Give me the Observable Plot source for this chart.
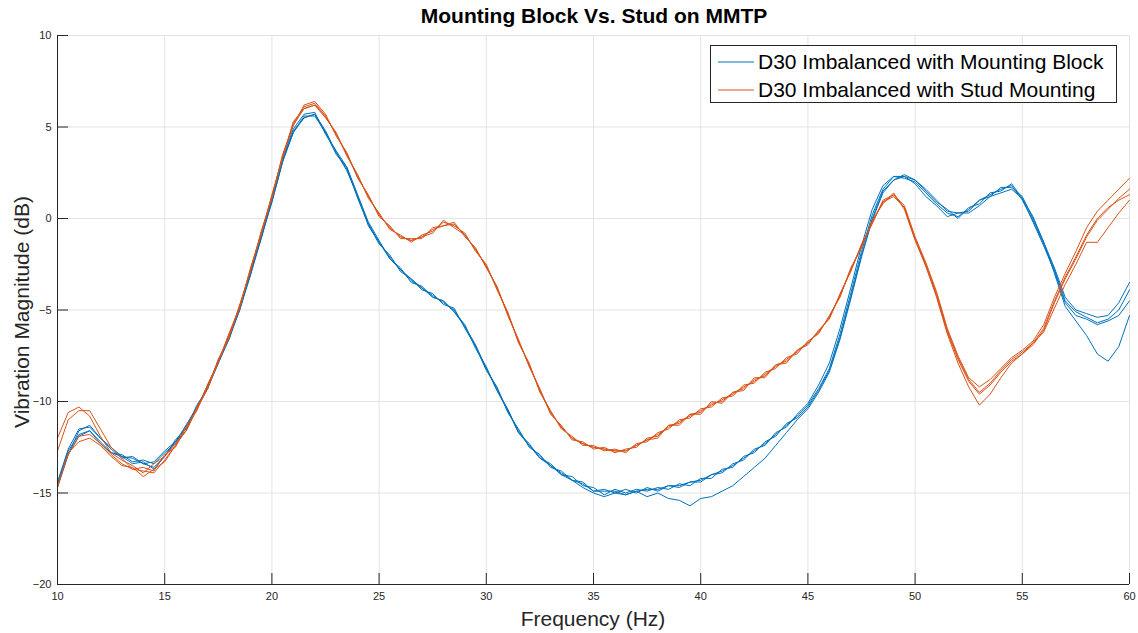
<!DOCTYPE html>
<html>
<head>
<meta charset="utf-8">
<script src="https://cdn.jsdelivr.net/npm/d3@7"></script>
<script src="https://cdn.jsdelivr.net/npm/@observablehq/plot@0.6"></script>
<style>
  body { margin: 0; background: #fff; font-family: "Liberation Sans", Arial, sans-serif; }
  #wrap { position: relative; width: 1138px; height: 633px; }
  #title { position: absolute; left: 0; top: 4px; width: 1188px; text-align: center; font-weight: bold; font-size: 21px; color: #000; }
  #chart { position: absolute; left: 0; top: 30px; }
  #ylab { position: absolute; left: 22px; top: 312px; transform: translate(-50%, -50%) rotate(-90deg); font-size: 21px; color: #262626; white-space: nowrap; }
  #xlab { position: absolute; left: 593px; top: 619px; transform: translate(-50%, -50%); font-size: 21px; color: #262626; white-space: nowrap; }
  #legend { position: absolute; left: 710px; top: 45px; width: 405px; height: 56px; border: 1px solid #262626; background: #fff; }
  .lrow { position: absolute; left: 0; height: 26px; display: flex; align-items: center; font-size: 21px; color: #000; white-space: nowrap; }
  .lrow svg { margin-left: 7px; margin-right: 4px; }
</style>
</head>
<body>
<div id="wrap">
  <div id="title">Mounting Block Vs. Stud on MMTP</div>
  <div id="chart"></div>
  <div id="ylab">Vibration Magnitude (dB)</div>
  <div id="xlab">Frequency (Hz)</div>
  <div id="legend"></div>
</div>
<script>
const seriesNames = ["D30 Imbalanced with Mounting Block", "D30 Imbalanced with Stud Mounting"];
const seriesColors = ["#0072BD", "#D95319"];
const xTicks = [10, 15, 20, 25, 30, 35, 40, 45, 50, 55, 60];
const yTicks = [-20, -15, -10, -5, 0, 5, 10];

const freq = [10,10.5,11,11.5,12,12.5,13,13.5,14,14.5,15,15.5,16,16.5,17,17.5,18,18.5,19,19.5,
  20,20.5,21,21.5,22,22.5,23,23.5,24,24.5,25,25.5,26,26.5,27,27.5,28,28.5,29,29.5,
  30,30.5,31,31.5,32,32.5,33,33.5,34,34.5,35,35.5,36,36.5,37,37.5,38,38.5,39,39.5,
  40,40.5,41,41.5,42,42.5,43,43.5,44,44.5,45,45.5,46,46.5,47,47.5,48,48.5,49,49.5,
  50,50.5,51,51.5,52,52.5,53,53.5,54,54.5,55,55.5,56,56.5,57,57.5,58,58.5,59,59.5,60];

const block1 = [-14.7,-12.9,-11.6,-11.3,-12.0,-12.5,-13.0,-13.1,-13.4,-13.6,-13.0,-12.1,-11.5,-10.2,-9.3,-7.7,-6.6,-4.8,-3.1,-0.9,
  0.9,3.1,4.8,5.5,5.7,4.8,3.6,2.7,1.2,-0.3,-1.4,-2.0,-2.9,-3.3,-3.9,-4.1,-4.7,-4.9,-6.0,-7.0,
  -8.3,-9.2,-10.6,-11.5,-12.5,-12.9,-13.6,-13.8,-14.3,-14.4,-14.9,-14.8,-15.0,-14.8,-15.0,-14.7,-14.9,-14.6,-14.7,-14.4,
  -14.4,-14.0,-13.9,-13.4,-13.2,-12.6,-12.4,-11.7,-11.4,-10.7,-10.1,-9.1,-7.9,-6.0,-3.8,-1.5,0.5,1.8,2.3,2.3,
  1.9,1.2,0.7,0.1,0.3,0.4,1.0,1.2,1.7,1.7,1.2,0.0,-1.3,-2.7,-4.3,-5.0,-5.2,-5.4,-5.3,-4.6,-3.5];
const block2 = [-14.5,-12.7,-11.8,-11.6,-12.2,-12.8,-12.9,-13.3,-13.2,-13.4,-12.8,-12.3,-11.3,-10.4,-9.1,-7.9,-6.4,-5.0,-2.9,-1.1,
  1.1,3.3,4.9,5.7,5.8,4.6,3.7,2.8,1.3,-0.2,-1.2,-2.2,-2.7,-3.5,-3.7,-4.3,-4.5,-5.1,-5.8,-7.1,
  -8.1,-9.4,-10.4,-11.7,-12.3,-13.1,-13.4,-14.0,-14.1,-14.6,-14.7,-15.1,-14.8,-15.0,-14.8,-14.9,-14.7,-14.8,-14.5,-14.6,
  -14.2,-14.2,-13.7,-13.6,-13.0,-12.8,-12.2,-11.9,-11.2,-10.9,-10.3,-9.4,-8.3,-6.5,-4.3,-2.0,0.0,1.5,2.1,2.4,
  2.1,1.5,0.9,0.5,0.0,0.6,0.8,1.4,1.5,1.9,1.1,-0.2,-1.5,-2.9,-4.6,-5.3,-5.5,-5.8,-5.6,-5.3,-4.5];
const block3 = [-14.4,-12.6,-11.5,-11.4,-12.0,-12.6,-13.1,-13.0,-13.4,-13.3,-12.7,-12.2,-11.3,-10.3,-9.2,-7.9,-6.5,-4.9,-3.0,-1.0,
  1.0,3.2,4.7,5.6,5.6,4.7,3.5,2.8,1.1,-0.3,-1.3,-2.1,-2.8,-3.3,-3.8,-4.2,-4.6,-5.0,-5.9,-6.9,
  -8.2,-9.3,-10.5,-11.6,-12.4,-13.0,-13.5,-13.9,-14.3,-14.5,-14.9,-14.9,-14.9,-15.1,-14.9,-14.8,-14.8,-14.6,-14.6,-14.4,
  -14.3,-14.0,-13.8,-13.5,-13.1,-12.7,-12.3,-11.8,-11.3,-10.8,-10.2,-9.3,-8.2,-6.3,-4.1,-1.8,0.2,1.6,2.3,2.2,
  2.0,1.4,0.8,0.3,0.1,0.5,1.0,1.3,1.6,1.8,1.0,-0.1,-1.4,-2.8,-4.5,-5.1,-5.4,-5.7,-5.5,-5.0,-3.9];
const block4 = [-14.6,-12.9,-11.9,-11.6,-12.3,-12.8,-13.0,-13.4,-13.3,-13.7,-13.0,-12.2,-11.6,-10.4,-9.3,-7.9,-6.6,-5.0,-3.1,-1.1,
  0.9,3.1,4.7,5.5,5.7,4.7,3.6,2.6,1.2,-0.4,-1.3,-2.2,-2.8,-3.4,-3.8,-4.3,-4.5,-5.1,-5.9,-7.0,
  -8.2,-9.4,-10.5,-11.7,-12.4,-13.1,-13.5,-14.0,-14.3,-14.7,-15.0,-15.2,-15.0,-15.1,-14.9,-15.2,-15.0,-15.3,-15.4,-15.7,
  -15.3,-15.2,-14.9,-14.6,-14.1,-13.6,-13.1,-12.4,-11.7,-11.0,-10.4,-9.5,-8.4,-6.6,-4.4,-2.1,-0.1,1.4,2.1,2.3,
  2.1,1.6,1.0,0.4,0.3,0.3,0.7,1.2,1.4,1.6,1.1,0.1,-1.3,-3.0,-4.8,-5.6,-6.4,-7.4,-7.8,-7.0,-5.3];

const stud1 = [-12.0,-10.6,-10.3,-10.8,-11.9,-12.8,-13.2,-13.5,-13.9,-13.4,-13.0,-12.3,-11.6,-10.3,-9.3,-7.7,-6.5,-4.7,-2.9,-0.7,
  1.1,3.5,5.1,6.2,6.4,5.7,4.5,3.6,2.2,1.3,0.1,-0.4,-1.1,-1.1,-1.1,-0.5,-0.4,-0.2,-1.0,-1.6,
  -2.7,-3.7,-5.3,-6.6,-8.1,-9.3,-10.7,-11.3,-12.1,-12.2,-12.6,-12.5,-12.8,-12.6,-12.5,-12.0,-11.9,-11.3,-11.2,-10.7,
  -10.6,-10.1,-10.0,-9.5,-9.3,-8.8,-8.6,-8.0,-7.8,-7.2,-6.9,-6.1,-5.5,-4.1,-2.9,-1.4,-0.3,1.0,1.3,0.7,
  -1.0,-2.4,-4.0,-6.0,-7.5,-8.7,-9.2,-8.8,-8.2,-7.6,-7.2,-6.7,-5.8,-4.3,-3.0,-1.8,-0.5,0.4,1.0,1.6,2.2];
const stud2 = [-12.7,-11.0,-10.5,-10.5,-11.5,-12.5,-13.1,-13.7,-13.6,-13.8,-12.9,-12.5,-11.4,-10.5,-9.1,-7.9,-6.3,-4.9,-2.7,-0.9,
  1.3,3.3,5.3,6.0,6.2,5.5,4.7,3.4,2.4,1.1,0.3,-0.6,-0.9,-1.3,-0.9,-0.7,-0.2,-0.4,-0.8,-1.8,
  -2.5,-3.9,-5.1,-6.8,-7.9,-9.5,-10.5,-11.5,-11.9,-12.4,-12.4,-12.7,-12.6,-12.8,-12.3,-12.2,-11.7,-11.5,-11.0,-10.9,
  -10.4,-10.3,-9.8,-9.7,-9.1,-9.0,-8.4,-8.2,-7.6,-7.4,-6.7,-6.3,-5.3,-4.3,-2.7,-1.6,-0.1,0.8,1.4,0.5,
  -1.2,-2.6,-4.2,-6.2,-7.7,-8.9,-9.6,-9.1,-8.4,-7.8,-7.4,-6.9,-6.1,-4.6,-3.3,-2.2,-1.0,-0.1,0.5,1.1,1.6];
const stud3 = [-14.7,-12.8,-12.2,-12.0,-12.4,-13.0,-13.5,-13.6,-14.1,-13.7,-13.3,-12.4,-11.6,-10.4,-9.3,-7.8,-6.5,-4.8,-2.8,-0.8,
  1.2,3.4,5.1,6.0,6.2,5.6,4.6,3.5,2.3,1.2,0.2,-0.5,-1.0,-1.2,-1.0,-0.6,-0.4,-0.3,-0.9,-1.7,
  -2.6,-3.8,-5.2,-6.7,-8.0,-9.4,-10.6,-11.4,-12.0,-12.3,-12.5,-12.6,-12.7,-12.7,-12.4,-12.1,-11.8,-11.4,-11.1,-10.8,
  -10.5,-10.2,-9.9,-9.6,-9.2,-8.9,-8.5,-8.1,-7.7,-7.3,-6.8,-6.2,-5.4,-4.2,-2.8,-1.5,-0.2,0.9,1.2,0.6,
  -1.1,-2.6,-4.3,-6.3,-7.9,-9.2,-10.2,-9.6,-8.7,-7.9,-7.4,-6.8,-6.2,-4.9,-3.6,-2.5,-1.3,-1.3,-0.5,0.3,1.0];
const stud4 = [-14.6,-12.9,-11.9,-11.8,-12.3,-12.9,-13.4,-13.7,-13.8,-13.9,-13.2,-12.4,-11.4,-10.4,-9.1,-7.8,-6.3,-4.8,-2.8,-0.8,
  1.2,3.4,5.2,6.1,6.3,5.6,4.6,3.5,2.3,1.2,0.2,-0.5,-1.0,-1.2,-1.0,-0.8,-0.1,-0.5,-0.9,-1.7,
  -2.6,-3.8,-5.2,-6.7,-8.0,-9.4,-10.6,-11.4,-12.0,-12.3,-12.5,-12.6,-12.7,-12.7,-12.4,-12.1,-12.0,-11.3,-11.3,-10.7,
  -10.7,-10.0,-10.1,-9.5,-9.4,-8.7,-8.7,-8.0,-7.9,-7.2,-6.8,-6.2,-5.4,-4.2,-2.8,-1.5,-0.2,0.9,1.3,0.6,
  -1.1,-2.5,-4.1,-6.1,-7.6,-8.8,-9.5,-9.0,-8.3,-7.7,-7.3,-6.8,-6.0,-4.5,-3.2,-2.1,-0.9,0.0,0.6,1.0,1.3];

const runs = [
  {name: "block1", series: seriesNames[0], values: block1},
  {name: "block2", series: seriesNames[0], values: block2},
  {name: "block3", series: seriesNames[0], values: block3},
  {name: "block4", series: seriesNames[0], values: block4},
  {name: "stud1", series: seriesNames[1], values: stud1},
  {name: "stud2", series: seriesNames[1], values: stud2},
  {name: "stud3", series: seriesNames[1], values: stud3},
  {name: "stud4", series: seriesNames[1], values: stud4}
];
const data = runs.flatMap(r => freq.map((f, i) => ({f, v: r.values[i], run: r.name, series: r.series})));

const axisColor = "#262626";
const chart = Plot.plot({
  width: 1138,
  height: 603,
  marginLeft: 57,
  marginRight: 9,
  marginTop: 5,
  marginBottom: 49,
  style: {fontFamily: "'Liberation Sans', Arial, sans-serif", background: "#fff", overflow: "visible"},
  x: {domain: [10, 60]},
  y: {domain: [-20, 10]},
  color: {domain: seriesNames, range: seriesColors},
  marks: [
    Plot.gridX(xTicks, {stroke: "#e3e3e3", strokeOpacity: 1}),
    Plot.gridY(yTicks, {stroke: "#e3e3e3", strokeOpacity: 1}),
    Plot.line(data, {x: "f", y: "v", z: "run", stroke: "series", strokeWidth: 1}),
    Plot.ruleX([10], {stroke: axisColor}),
    Plot.ruleY([-20], {stroke: axisColor}),
    Plot.tickX(xTicks, {x: d => d, insetTop: 538, stroke: axisColor}),
    Plot.tickY(yTicks, {y: d => d, insetRight: 1061, stroke: axisColor}),
    Plot.axisX(xTicks, {tickSize: 0, tickPadding: 8, fontSize: 11, color: axisColor, label: null}),
    Plot.axisY(yTicks, {tickSize: 0, tickPadding: 6, fontSize: 11, color: axisColor, label: null})
  ]
});
document.getElementById("chart").appendChild(chart);

const legend = document.getElementById("legend");
const svgNS = "http://www.w3.org/2000/svg";
seriesNames.forEach((name, i) => {
  const row = document.createElement("div");
  row.className = "lrow";
  row.style.top = (3 + i * 28) + "px";
  const sw = document.createElementNS(svgNS, "svg");
  sw.setAttribute("width", "36");
  sw.setAttribute("height", "4");
  const ln = document.createElementNS(svgNS, "line");
  ln.setAttribute("x1", "0"); ln.setAttribute("x2", "36");
  ln.setAttribute("y1", "2"); ln.setAttribute("y2", "2");
  ln.setAttribute("stroke", seriesColors[i]);
  ln.setAttribute("stroke-width", "1");
  sw.appendChild(ln);
  const tx = document.createElement("span");
  tx.textContent = name;
  row.appendChild(sw);
  row.appendChild(tx);
  legend.appendChild(row);
});
</script>
</body>
</html>
